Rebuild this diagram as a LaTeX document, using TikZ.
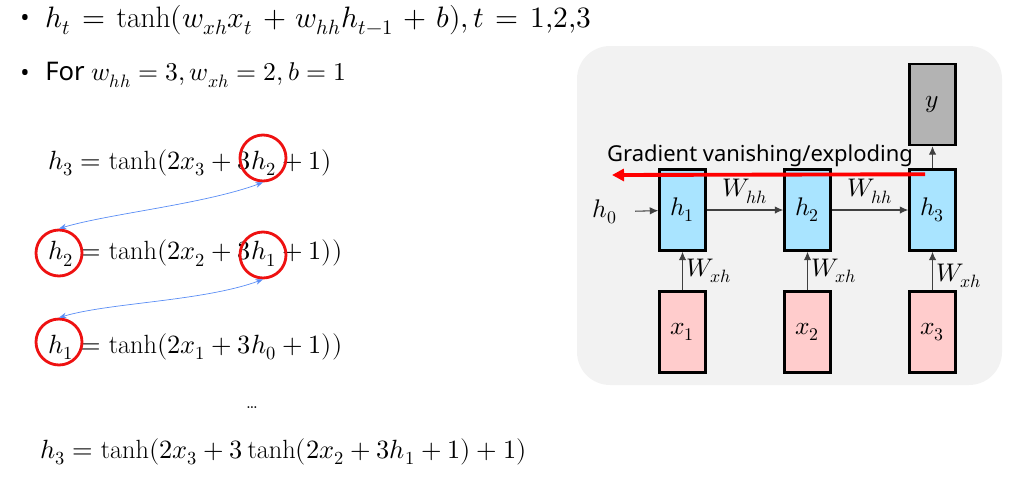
\documentclass[tikz,border=0pt]{standalone}
\usepackage{fontspec}
\usepackage{unicode-math}
\setmathfont{Latin Modern Math}
\setsansfont{Noto Sans}
\usepackage{tikz}
\usetikzlibrary{arrows.meta,positioning,calc}
\definecolor{panelgray}{HTML}{F2F2F2}
\definecolor{hidcell}{HTML}{A9E4FF}
\definecolor{incell}{HTML}{FFCCCC}
\definecolor{outcell}{HTML}{B3B3B3}
\definecolor{ringred}{HTML}{EE1111}
\definecolor{linkblue}{HTML}{5A8DF5}
\newcommand{\widesp}{\medmuskip=6mu plus 2mu\thickmuskip=7mu plus 3mu}
\tikzset{eqn/.style={anchor=west,inner sep=0pt,font=\fontsize{15}{18}\selectfont}, cell/.style={draw=black,line width=1.4pt,minimum width=0.92cm,minimum height=1.62cm,inner sep=0pt,font=\fontsize{14.5}{17}\selectfont}, ring/.style={circle,draw=ringred,line width=1.6pt,minimum size=0.92cm,inner sep=0pt}, feed/.style={-{Latex[length=1.7mm,width=1.5mm]},draw=black!75,semithick}, wlab/.style={font=\fontsize{14.5}{17}\selectfont,inner sep=2pt}, back/.style={{Stealth[length=1.5mm]}-{Stealth[length=1.5mm]},draw=linkblue,thin}, grad/.style={-{Triangle[length=2.4mm,width=2.4mm]},draw=red,line width=2.2pt}}

\begin{document}
\begin{tikzpicture}[x=0.02cm,y=-0.02cm]
\useasboundingbox (0,0) rectangle (1033,477);
% left side: equations
\node[eqn,font=\sffamily\fontsize{14}{17}\selectfont] (b1) at (20,20) {\textbullet};
\node[eqn,font=\fontsize{16.8}{19}\selectfont] (e1) at (45,20) {\widesp$h_t = \tanh(w_{xh}x_t + w_{hh}h_{t-1} + b), t = 1{,}2{,}3$};
\node[eqn,font=\sffamily\fontsize{14}{17}\selectfont] (b2) at (20,75) {\textbullet};
\node[eqn,font=\fontsize{14.6}{17}\selectfont] (e2) at (45,75) {\sffamily For $w_{hh} = 3, w_{xh} = 2, b = 1$};
\node[eqn] (q3) at (48,163) {$h_3 = \tanh(2x_3 + 3h_2 + 1)$};
\node[eqn] (q2) at (48,253) {$h_2 = \tanh(2x_2 + 3h_1 + 1))$};
\node[eqn] (q1) at (48,347) {$h_1 = \tanh(2x_1 + 3h_0 + 1))$};
\node[eqn,anchor=center,font=\fontsize{10}{12}\selectfont] (dots) at (252,408) {\ldots};
\node[eqn] (qall) at (40,452) {$h_3 = \tanh(2x_3 + 3\tanh(2x_2 + 3h_1 + 1) + 1)$};
\node[ring] (r3a) at (263,158) {};
\node[ring] (r2a) at (59,253) {};
\node[ring] (r2b) at (263,255) {};
\node[ring] (r1a) at (59,342) {};
\draw[back] (r3a.south) .. controls +(-60,22) and +(50,-15) .. (r2a.north);
\draw[back] (r2b.south) .. controls +(-60,22) and +(50,-15) .. (r1a.north);
% right side: unrolled rnn
\fill[panelgray,rounded corners=0.66cm] (577,46) rectangle (1002,385);
\node[cell,fill=outcell] (y) at (932.5,104.5) {$y$};
\node[cell,fill=hidcell] (h1) at (682.5,210) {$h_1$};
\node[cell,fill=hidcell] (h2) at (807.5,210) {$h_2$};
\node[cell,fill=hidcell] (h3) at (932.5,210) {$h_3$};
\node[cell,fill=incell] (x1) at (682.5,332) {$x_1$};
\node[cell,fill=incell] (x2) at (807.5,332) {$x_2$};
\node[cell,fill=incell] (x3) at (932.5,332) {$x_3$};
\node[wlab] (h0) at (605,212) {$h_0$};
\draw[feed,shorten <=8pt] (h0) -- (h1);
\draw[feed] (h1) -- node[wlab,above,yshift=0.05cm] {$W_{hh}$} (h2);
\draw[feed] (h2) -- node[wlab,above,yshift=0.05cm] {$W_{hh}$} (h3);
\draw[feed] (x1) -- node[wlab,right] {$W_{xh}$} (h1);
\draw[feed] (x2) -- node[wlab,right] {$W_{xh}$} (h2);
\draw[feed] (x3) -- node[wlab,right,yshift=-0.1cm] {$W_{xh}$} (h3);
\draw[feed] (h3) -- (y);
\coordinate (gend) at (612,175);
\draw[grad] ($(h3.north)+(-7.5,6)$) -- (gend);
\node[font=\sffamily\fontsize{12.5}{15}\selectfont,inner sep=0pt] (glab) at (760,156) {Gradient vanishing/exploding};
\end{tikzpicture}
\end{document}
